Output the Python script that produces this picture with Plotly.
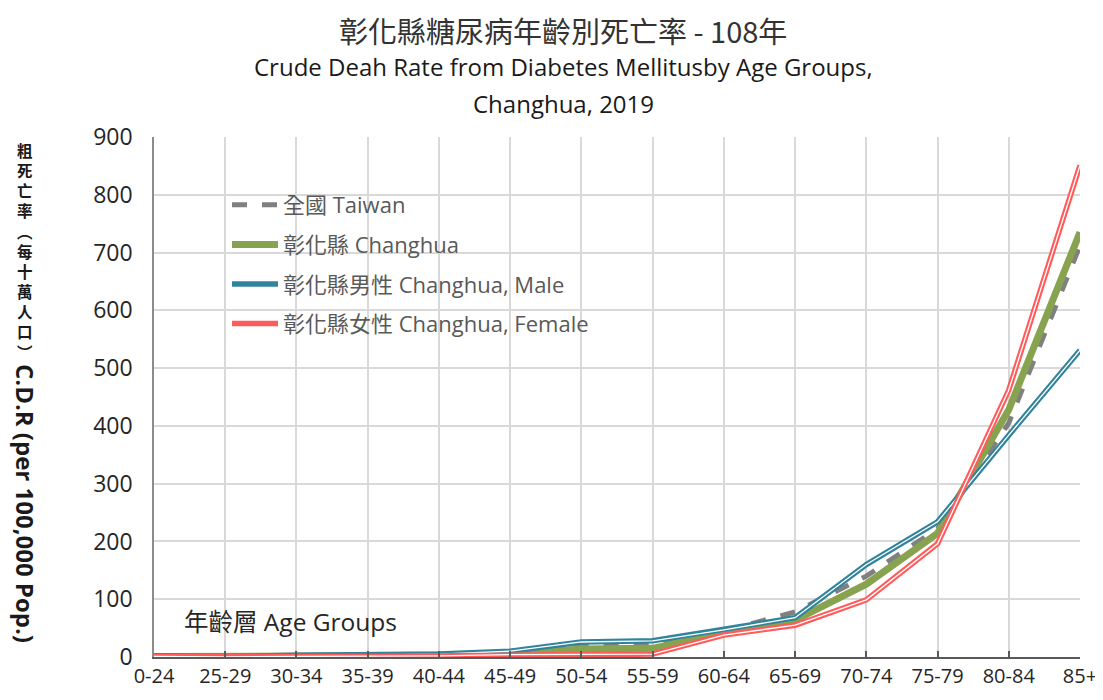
import plotly.graph_objects as go

age_groups = ["0-24", "25-29", "30-34", "35-39", "40-44", "45-49", "50-54",
              "55-59", "60-64", "65-69", "70-74", "75-79", "80-84", "85+"]
taiwan = [1, 0.5, 1.5, 2, 3, 8, 18, 22, 45, 78, 140, 222, 405, 712]
changhua = [1, 0.5, 1, 2, 3, 6, 14, 15, 42, 64, 126, 214, 428, 735]
male = [2, 1, 3, 3, 5, 10, 26, 28, 47, 68, 160, 234, 384, 531]
female = [1, 0, 1, 1, 2, 4, 5, 5, 38, 55, 99, 196, 462, 851]

names = ["全國 Taiwan", "彰化縣 Changhua", "彰化縣男性 Changhua, Male", "彰化縣女性 Changhua, Female"]

FONT = "Open Sans, Noto Sans CJK TC, sans-serif"
CJK = "Noto Sans CJK TC, sans-serif"

fig = go.Figure()
fig.add_trace(go.Scatter(x=age_groups, y=taiwan, mode="lines", name=names[0],
                         line=dict(color="#808080", width=5, dash="dash"), legendgroup="a"))
fig.add_trace(go.Scatter(x=age_groups, y=changhua, mode="lines", name=names[1],
                         line=dict(color="#87a34f", width=7), legendgroup="b"))
fig.add_trace(go.Scatter(x=age_groups, y=male, mode="lines", name=names[2],
                         line=dict(color="#31849b", width=5.5), legendgroup="c"))
fig.add_trace(go.Scatter(x=age_groups, y=male, mode="lines", showlegend=False, hoverinfo="skip",
                         line=dict(color="white", width=1.3), legendgroup="c"))
fig.add_trace(go.Scatter(x=age_groups, y=female, mode="lines", name=names[3],
                         line=dict(color="#ff5b5b", width=5.5), legendgroup="d"))
fig.add_trace(go.Scatter(x=age_groups, y=female, mode="lines", showlegend=False, hoverinfo="skip",
                         line=dict(color="white", width=1.3), legendgroup="d"))

# screen coordinates of the plot area (page has an 8px body margin)
OFF = 8
L, R, T, B = 154, 1080, 137, 657
W, H = 1103 - OFF, 700 - OFF


def px(x):
    return (x - L) / (R - L)


def py(y):
    return (B - y) / (B - T)


def note(text, x, y, size, color="#262626", family=FONT, weight=400, angle=0, xanchor="center",
         yanchor="middle"):
    return dict(text=text, x=px(x), y=py(y), xref="paper", yref="paper", showarrow=False,
                xanchor=xanchor, yanchor=yanchor, textangle=angle,
                font=dict(family=family, size=size, color=color, weight=weight))


ann = [
    note("彰化縣糖尿病年齡別死亡率 - 108年", 563, 30, 29, "#333333", CJK),
    note("Crude Deah Rate from Diabetes Mellitusby Age Groups,", 563, 66, 24, "#1a1a1a"),
    note("Changhua, 2019", 563, 103, 24, "#1a1a1a"),
    note("年齡層 Age Groups", 182, 621, 24.5, "#262626", xanchor="left"),
]

# vertical y-axis title: CJK upright (stacked), Latin rotated
cjk_col = "<br>".join(["粗", "死", "亡", "率", "︵", "每", "十", "萬", "人", "口", "︶"])
ann.append(note(cjk_col, 25, 137, 15.5, "#1a1a1a", CJK, 700, yanchor="top"))
ann.append(note("C.D.R (per 100,000 Pop.)", 25, 503, 24, "#1a1a1a", FONT, 700, 90))

fig.update_layout(
    width=W, height=H,
    margin=dict(l=L - OFF, r=W - (R - OFF), t=T - OFF, b=H - (B - OFF), pad=0),
    paper_bgcolor="white", plot_bgcolor="white",
    font=dict(family=FONT, color="#262626"),
    annotations=ann,
    showlegend=True,
    legend=dict(x=px(227), y=py(184), xanchor="left", yanchor="top", bgcolor="rgba(0,0,0,0)",
                font=dict(family=FONT, size=22, color="#595959"), tracegroupgap=8,
                traceorder="grouped", itemwidth=46),
)
fig.update_xaxes(type="category", categoryorder="array", categoryarray=age_groups,
                 range=[0, 13], showgrid=True, gridcolor="#d9d9d9", gridwidth=1.5,
                 showline=True, linecolor="#595959", linewidth=2, automargin=False,
                 ticks="inside", ticklen=6, tickcolor="#595959", tickwidth=2,
                 tickfont=dict(family=FONT, size=20, color="#262626"), zeroline=False)
fig.update_yaxes(range=[0, 900], dtick=100, showgrid=True, gridcolor="#d9d9d9", gridwidth=1.5,
                 showline=True, linecolor="#8c8c8c", linewidth=1.5, ticks="", automargin=False,
                 tickfont=dict(family=FONT, size=23, color="#262626"), zeroline=False,
                 ticklabelstandoff=15)

fig.write_html("out.html")
